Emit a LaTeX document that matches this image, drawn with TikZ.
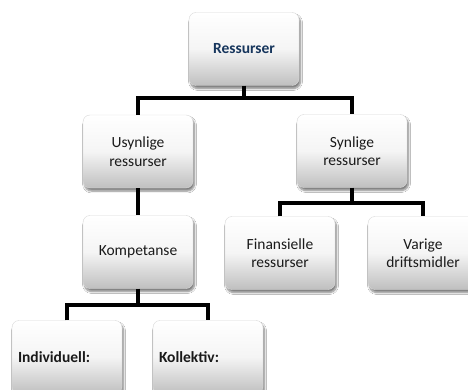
\documentclass[tikz,border=0pt]{standalone}
\usepackage{fontspec}
\setmainfont{Carlito}
\usetikzlibrary{shadows.blur}
\definecolor{navy}{HTML}{17365D}
\definecolor{txt}{HTML}{1A1A1A}
\tikzset{
  box/.style={rectangle, rounded corners=7pt, minimum width=110pt, minimum height=73pt,
    top color=white, bottom color=black!25, middle color=black!4, draw=black!15, line width=0.4pt,
    blur shadow={shadow xshift=1.5pt, shadow yshift=-3pt, shadow blur steps=6, shadow opacity=50},
    align=center, font=\fontsize{15.5}{18.5}\selectfont, text=txt, inner sep=0pt},
  boldtxt/.style={font=\bfseries\fontsize{15.5}{18.5}\selectfont},
  conn/.style={line width=3.5pt, black}
}
\begin{document}
\begin{tikzpicture}[x=1pt,y=-1pt]
\useasboundingbox (0,0) rectangle (468,390);
\clip (0,0) rectangle (468,390);
\fill[white] (0,0) rectangle (468,390);
\coordinate (h1) at (0,98);
\coordinate (h2) at (0,203);
\coordinate (h3) at (0,305);
\node[box, boldtxt, text=navy] (res) at (244,49) {Ressurser};
\node[box] (usy) at (138,151.5) {Usynlige\\ressurser};
\node[box] (syn) at (352,151) {Synlige\\ressurser};
\node[box] (kom) at (138,252) {Kompetanse};
\node[box] (fin) at (280,253) {Finansielle\\ressurser};
\node[box] (var) at (423,253) {Varige\\driftsmidler};
\node[box, boldtxt, text width=98pt, align=left] (ind) at (67,357) {Individuell:};
\node[box, boldtxt, text width=98pt, align=left] (kol) at (208,357) {Kollektiv:};
\draw[conn] (res.south) -- (res.south |- h1);
\draw[conn, line join=miter] (usy.north) -- (usy.north |- h1) -- (syn.north |- h1) -- (syn.north);
\draw[conn] (usy.south) -- (kom.north);
\draw[conn] (syn.south) -- (syn.south |- h2);
\draw[conn, line join=miter] (fin.north) -- (fin.north |- h2) -- (var.north |- h2) -- (var.north);
\draw[conn] (kom.south) -- (kom.south |- h3);
\draw[conn, line join=miter] (ind.north) -- (ind.north |- h3) -- (kol.north |- h3) -- (kol.north);
\end{tikzpicture}
\end{document}
